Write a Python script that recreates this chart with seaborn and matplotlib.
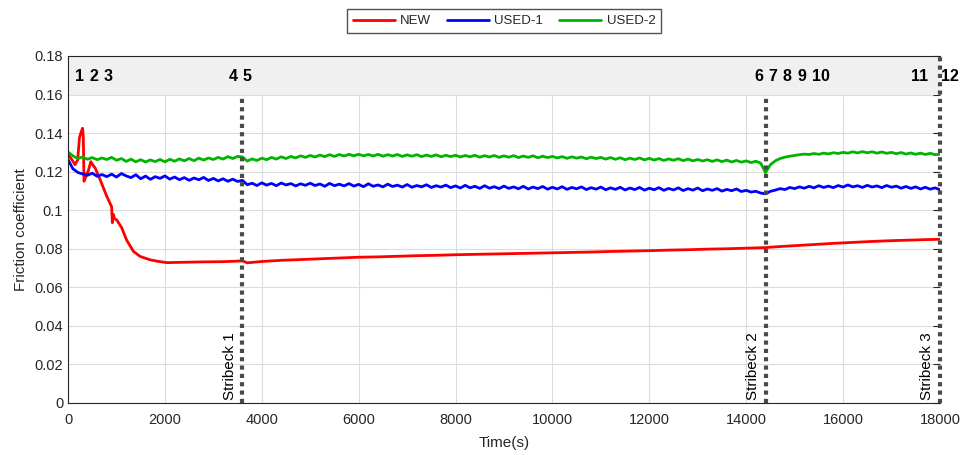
import pandas as pd
import matplotlib
matplotlib.use("Agg")
import matplotlib.pyplot as plt
import seaborn as sns

# --- data ---
# NEW sample (own time base, denser at the start)
new_time = [0, 80, 145, 200, 235, 270, 300, 315, 330, 370, 420, 470, 520, 560, 660,
            800, 900, 915, 935, 960, 1005, 1110, 1210, 1350, 1490, 1690, 1850, 2040,
            2400, 2800, 3200, 3600, 3700, 4000, 4400, 4800, 5200, 5600, 6000, 6400,
            6800, 7200, 7600, 8000, 8400, 8800, 9200, 9600, 10000, 10400, 10800,
            11200, 11600, 12000, 12400, 12800, 13200, 13600, 14000, 14400, 14600,
            15000, 15400, 15800, 16200, 16600, 17000, 17400, 17800, 18000]
new_cof = [0.1290, 0.1262, 0.1236, 0.1262, 0.1375, 0.1405, 0.1425, 0.1380, 0.1150,
           0.1175, 0.1205, 0.1252, 0.1232, 0.1219, 0.1160, 0.1072, 0.1018, 0.0935,
           0.0978, 0.0955, 0.0950, 0.0908, 0.0845, 0.0786, 0.0760, 0.0743, 0.0735,
           0.0728, 0.0730, 0.0732, 0.0733, 0.0737, 0.0727, 0.0734, 0.0740, 0.0744,
           0.0748, 0.0752, 0.0756, 0.0758, 0.0761, 0.0764, 0.0766, 0.0769, 0.0771,
           0.0773, 0.0775, 0.0777, 0.0779, 0.0781, 0.0783, 0.0786, 0.0788, 0.0790,
           0.0793, 0.0795, 0.0798, 0.0800, 0.0803, 0.0806, 0.0810, 0.0816, 0.0822,
           0.0828, 0.0833, 0.0838, 0.0842, 0.0845, 0.0848, 0.0849]

# USED samples, every 100 s from 0 to 18000
used_time = list(range(0, 18001, 100))
used1_cof = [
    0.1262, 0.1215, 0.1196, 0.1188, 0.1181, 0.1192, 0.1176, 0.1185, 0.1174, 0.1187,
    0.1172, 0.1190, 0.1178, 0.1169, 0.1184, 0.1163, 0.1177, 0.1160, 0.1174, 0.1165,
    0.1178, 0.1161, 0.1172, 0.1158, 0.1169, 0.1155, 0.1167, 0.1158, 0.1170, 0.1154,
    0.1165, 0.1152, 0.1163, 0.1150, 0.1161, 0.1149, 0.1155, 0.1132, 0.1140, 0.1128,
    0.1142, 0.1130, 0.1139, 0.1127, 0.1141, 0.1131, 0.1138, 0.1126, 0.1137, 0.1129,
    0.1140, 0.1128, 0.1136, 0.1124, 0.1139, 0.1127, 0.1135, 0.1126, 0.1138, 0.1125,
    0.1134, 0.1122, 0.1137, 0.1124, 0.1131, 0.1121, 0.1135, 0.1123, 0.1130, 0.1120,
    0.1133, 0.1119, 0.1128, 0.1121, 0.1132, 0.1118, 0.1127, 0.1120, 0.1130, 0.1117,
    0.1126, 0.1115, 0.1129, 0.1116, 0.1124, 0.1113, 0.1127, 0.1114, 0.1122, 0.1112,
    0.1125, 0.1113, 0.1121, 0.1111, 0.1124, 0.1110, 0.1120, 0.1112, 0.1123, 0.1109,
    0.1119, 0.1110, 0.1122, 0.1108, 0.1118, 0.1111, 0.1121, 0.1107, 0.1117, 0.1109,
    0.1120, 0.1106, 0.1116, 0.1108, 0.1119, 0.1105, 0.1115, 0.1107, 0.1118, 0.1104,
    0.1114, 0.1106, 0.1117, 0.1103, 0.1113, 0.1105, 0.1116, 0.1102, 0.1112, 0.1104,
    0.1115, 0.1101, 0.1110, 0.1103, 0.1112, 0.1099, 0.1108, 0.1101, 0.1110, 0.1097,
    0.1103, 0.1094, 0.1098, 0.1089, 0.1085, 0.1098, 0.1104, 0.1112, 0.1107, 0.1118,
    0.1112, 0.1121, 0.1114, 0.1124, 0.1116, 0.1127, 0.1118, 0.1125, 0.1117, 0.1128,
    0.1120, 0.1131, 0.1121, 0.1127, 0.1118, 0.1129, 0.1120, 0.1126, 0.1117, 0.1128,
    0.1119, 0.1125, 0.1114, 0.1123, 0.1113, 0.1121, 0.1110, 0.1119, 0.1109, 0.1116,
    0.1106]
used2_cof = [
    0.1302, 0.1282, 0.1268, 0.1276, 0.1264, 0.1273, 0.1262, 0.1271, 0.1263, 0.1274,
    0.1259, 0.1268, 0.1253, 0.1265, 0.1251, 0.1262, 0.1250, 0.1261, 0.1252, 0.1263,
    0.1251, 0.1264, 0.1254, 0.1266, 0.1256, 0.1268, 0.1257, 0.1270, 0.1260, 0.1271,
    0.1263, 0.1274, 0.1265, 0.1278, 0.1268, 0.1279, 0.1276, 0.1255, 0.1266, 0.1258,
    0.1270, 0.1262, 0.1274, 0.1265, 0.1277, 0.1268, 0.1279, 0.1271, 0.1282, 0.1274,
    0.1284, 0.1276, 0.1286, 0.1278, 0.1288, 0.1279, 0.1289, 0.1281, 0.1290, 0.1282,
    0.1290, 0.1282, 0.1289, 0.1281, 0.1290, 0.1280, 0.1288, 0.1281, 0.1289, 0.1279,
    0.1287, 0.1280, 0.1288, 0.1278, 0.1286, 0.1279, 0.1287, 0.1277, 0.1285, 0.1278,
    0.1285, 0.1276, 0.1284, 0.1277, 0.1285, 0.1275, 0.1283, 0.1276, 0.1284, 0.1274,
    0.1282, 0.1275, 0.1283, 0.1273, 0.1281, 0.1274, 0.1282, 0.1272, 0.1280, 0.1273,
    0.1279, 0.1271, 0.1278, 0.1269, 0.1277, 0.1270, 0.1276, 0.1267, 0.1275, 0.1268,
    0.1274, 0.1265, 0.1273, 0.1264, 0.1272, 0.1262, 0.1270, 0.1263, 0.1271, 0.1261,
    0.1269, 0.1260, 0.1268, 0.1258, 0.1266, 0.1259, 0.1267, 0.1257, 0.1265, 0.1256,
    0.1263, 0.1255, 0.1262, 0.1253, 0.1261, 0.1252, 0.1260, 0.1250, 0.1258, 0.1249,
    0.1256, 0.1247, 0.1254, 0.1244, 0.1195, 0.1236, 0.1256, 0.1268, 0.1275, 0.1280,
    0.1284, 0.1288, 0.1291, 0.1289, 0.1294, 0.1290, 0.1296, 0.1292, 0.1298, 0.1294,
    0.1300, 0.1296, 0.1303, 0.1297, 0.1304, 0.1298, 0.1303, 0.1296, 0.1302, 0.1295,
    0.1300, 0.1293, 0.1299, 0.1291, 0.1297, 0.1290, 0.1296, 0.1289, 0.1295, 0.1288,
    0.1290]

stribeck_times = [3600, 14400, 18000]
stribeck_labels = ["Stribeck 1", "Stribeck 2", "Stribeck 3"]
step_labels = ["1", "2", "3", "4", "5", "6", "7", "8", "9", "10", "11", "12"]
step_times = [227, 542, 831, 3413, 3702, 14257, 14546, 14847, 15145, 15537, 17590, 18210]

# long-form table for seaborn
df = pd.concat([
    pd.DataFrame({"Time": new_time, "COF": new_cof, "Sample": "NEW"}),
    pd.DataFrame({"Time": used_time, "COF": used1_cof, "Sample": "USED-1"}),
    pd.DataFrame({"Time": used_time, "COF": used2_cof, "Sample": "USED-2"}),
], ignore_index=True)

sns.set_style("white")
plt.rcParams["font.family"] = ["Liberation Sans", "DejaVu Sans"]

fig = plt.figure(figsize=(9.65, 4.55), dpi=100)
ax = fig.add_axes([0.0705, 0.1143, 0.9035, 0.7627])

palette = {"NEW": "#ff0000", "USED-1": "#0000ff", "USED-2": "#00b400"}
sns.lineplot(data=df, x="Time", y="COF", hue="Sample", palette=palette,
             estimator=None, sort=False, linewidth=2, ax=ax, zorder=2)

ax.set_xlim(0, 18000)
ax.set_ylim(0, 0.18)
ax.set_xticks(range(0, 18001, 2000))
ax.set_yticks([0, 0.02, 0.04, 0.06, 0.08, 0.1, 0.12, 0.14, 0.16, 0.18])
ax.yaxis.set_major_formatter(plt.FuncFormatter(lambda v, p: f"{v:g}"))
ax.grid(True, color="#dcdcdc", linewidth=0.8)
ax.set_axisbelow(True)
ax.tick_params(direction="in", length=5, width=0.8, labelsize=10.5,
               labelcolor="#262626", right=True, color="#262626")
ax.tick_params(axis="x", pad=7.5)
for side in ["left", "bottom", "top"]:
    ax.spines[side].set_color("#262626")
    ax.spines[side].set_linewidth(0.8)
ax.spines["right"].set_visible(False)

ax.set_xlabel("Time(s)", fontsize=11, color="#262626", labelpad=6)
ax.set_ylabel("Friction coefficient", fontsize=11, color="#262626", labelpad=5)

# grey band with the step numbers
ax.axhspan(0.16, 0.18, color="#f0f0f0", zorder=1, linewidth=0)
for lab, t in zip(step_labels, step_times):
    ax.text(t, 0.1695, lab, ha="center", va="center", fontsize=11.5,
            fontweight="bold", color="black", clip_on=False)

# Stribeck markers
for t, lab in zip(stribeck_times, stribeck_labels):
    top = 0.18 if t == 18000 else 0.16
    ax.vlines(t, 0, top, colors="#4a4a4a", linewidth=3, linestyles=(0, (1, 1)),
              zorder=3, clip_on=False)
    ax.text(t - 120, 0.0015, lab, rotation=90, ha="right", va="bottom",
            fontsize=11, color="black")

ax.legend(loc="lower center", bbox_to_anchor=(0.5, 1.047), ncol=3, frameon=True,
          fancybox=False, edgecolor="#262626", fontsize=9.5, handlelength=3.2,
          borderpad=0.45, columnspacing=1.2, handletextpad=0.4, title=None)

fig.savefig("out.png", dpi=100)
